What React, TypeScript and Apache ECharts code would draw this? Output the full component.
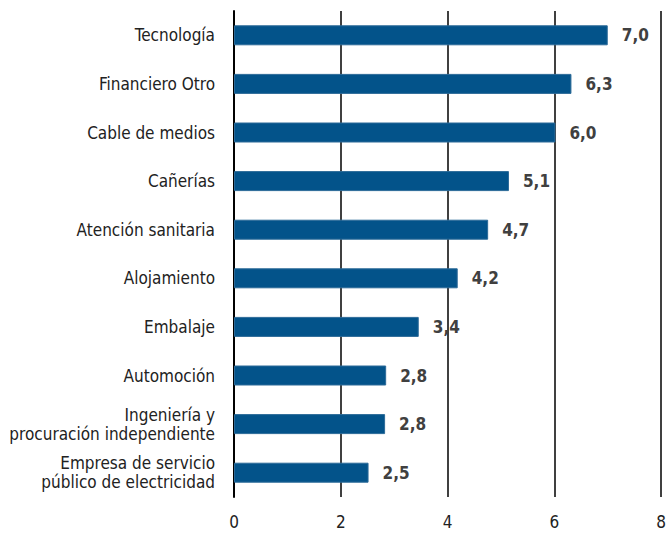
import React, { useEffect, useRef } from "react";
import * as echarts from "echarts";

const categories = [
  "Tecnología",
  "Financiero Otro",
  "Cable de medios",
  "Cañerías",
  "Atención sanitaria",
  "Alojamiento",
  "Embalaje",
  "Automoción",
  "Ingeniería y\nprocuración independiente",
  "Empresa de servicio\npúblico de electricidad",
];
const values = [7.0, 6.32, 6.02, 5.15, 4.76, 4.19, 3.46, 2.85, 2.83, 2.52];
const valueLabels = ["7,0", "6,3", "6,0", "5,1", "4,7", "4,2", "3,4", "2,8", "2,8", "2,5"];
const xTicks = [0, 2, 4, 6, 8];

const FONT = "'Liberation Sans Narrow', 'Arial Narrow', 'DejaVu Sans Condensed', sans-serif";

export default function App() {
  const ref = useRef<HTMLDivElement>(null);
  useEffect(() => {
    document.body.style.margin = "0";
    const chart = echarts.init(ref.current!, null, { renderer: "svg" });
    chart.setOption({
      animation: false,
      grid: { left: 234, right: 7, top: 11, bottom: 40, containLabel: false },
      xAxis: {
        type: "value",
        min: xTicks[0],
        max: xTicks[xTicks.length - 1],
        interval: 2,
        axisLine: { show: false },
        axisTick: { show: false },
        axisLabel: { fontFamily: FONT, fontSize: 17, color: "#222", margin: 16 },
        splitLine: { show: true, lineStyle: { color: "#000", width: 1.5 } },
      },
      yAxis: {
        type: "category",
        inverse: true,
        data: categories,
        axisLine: { show: true, lineStyle: { color: "#000", width: 2 } },
        axisTick: { show: false },
        axisLabel: {
          fontFamily: FONT,
          fontSize: 17,
          color: "#222",
          margin: 19,
          lineHeight: 19,
          align: "right",
        },
      },
      series: [
        {
          type: "bar",
          data: values,
          barWidth: 20,
          itemStyle: { color: "#03538a", borderColor: "#2c6a98", borderWidth: 1 },
          label: {
            show: true,
            position: "right",
            distance: 14,
            fontFamily: FONT,
            fontSize: 17,
            fontWeight: "bold",
            color: "#404040",
            formatter: (p: any) => valueLabels[p.dataIndex],
          },
        },
      ],
    });
    return () => chart.dispose();
  }, []);
  return <div ref={ref} style={{ width: 669, height: 537 }} />;
}
